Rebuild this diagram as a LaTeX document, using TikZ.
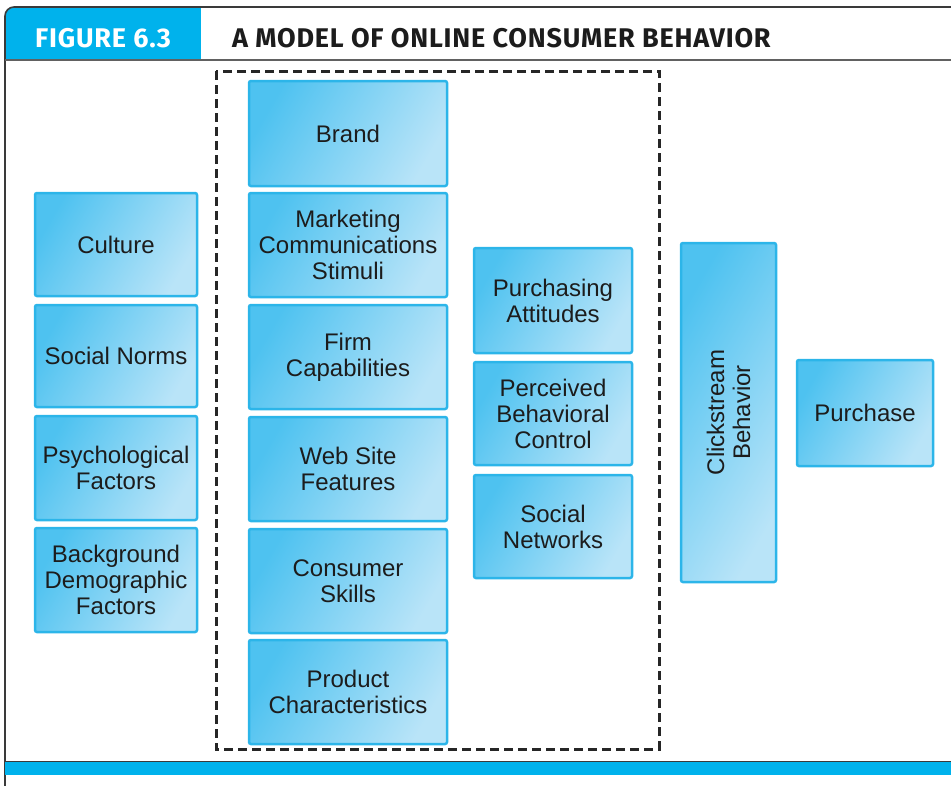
\documentclass[tikz,border=0pt]{standalone}
\usepackage{fontspec}
\setmainfont{Liberation Sans}
\newfontfamily\headfont[LetterSpace=3]{Fira Sans}
\definecolor{headblue}{HTML}{00B2EC}
\definecolor{boxdark}{HTML}{4EC2F0}
\definecolor{boxlight}{HTML}{B9E4F8}
\definecolor{boxedge}{HTML}{2CB5E9}
\definecolor{txt}{HTML}{1C1C1C}
\definecolor{framecol}{HTML}{3A3A3A}
\tikzset{
  box/.style={draw=boxedge, line width=2.5pt, rounded corners=2pt,
    left color=boxdark, right color=boxlight, shading angle=60,
    inner sep=0pt, align=center, text=txt,
    font=\fontsize{24}{26}\selectfont},
  headtext/.style={inner sep=0pt, anchor=base west, font=\headfont\bfseries\fontsize{27}{27}\selectfont}
}
\begin{document}
\begin{tikzpicture}[x=1pt,y=-1pt]
\useasboundingbox (0,0) rectangle (951,785);
% frame and header
\begin{scope}
  \clip[rounded corners=9pt] (5,7) rectangle (1000,900);
  \fill[headblue] (5,7) rectangle (201,60);
\end{scope}
\draw[framecol, line width=1.6pt, rounded corners=9pt] (5,800) -- (5,7) -- (960,7);
\draw[framecol!80, line width=1.4pt] (5,60) -- (960,60);
\fill[headblue] (5,762) rectangle (960,775);
\draw[framecol, line width=1.4pt] (5,761.5) -- (960,761.5);
\node[headtext, text=white] (fig) at (35,47) {FIGURE 6.3};
\node[headtext, text=txt] (title) at (232,47) {A MODEL OF ONLINE CONSUMER BEHAVIOR};
% dashed group
\draw[black!85, line width=3pt, dash pattern=on 9pt off 5pt] (216,71) rectangle (659,749);
% left column
\node[box, minimum width=162pt, minimum height=103pt] (culture) at (116,244.5) {Culture};
\node[box, minimum width=162pt, minimum height=102pt] (norms) at (116,356) {Social Norms};
\node[box, minimum width=162pt, minimum height=104pt] (psych) at (116,468) {Psychological\\Factors};
\node[box, minimum width=162pt, minimum height=104pt] (demo) at (116,580) {Background\\Demographic\\Factors};
% middle column
\node[box, minimum width=198pt, minimum height=105pt] (brand) at (348,133.5) {Brand};
\node[box, minimum width=198pt, minimum height=104pt] (mkt) at (348,245) {Marketing\\Communications\\Stimuli};
\node[box, minimum width=198pt, minimum height=104pt] (firm) at (348,357) {Firm\\Capabilities};
\node[box, minimum width=198pt, minimum height=104pt] (web) at (348,469) {Web Site\\Features};
\node[box, minimum width=198pt, minimum height=104pt] (skills) at (348,581) {Consumer\\Skills};
\node[box, minimum width=198pt, minimum height=104pt] (prod) at (348,692) {Product\\Characteristics};
% right column in group
\node[box, minimum width=158pt, minimum height=105pt] (att) at (553,300.5) {Purchasing\\Attitudes};
\node[box, minimum width=158pt, minimum height=103pt] (pbc) at (553,413.5) {Perceived\\Behavioral\\Control};
\node[box, minimum width=158pt, minimum height=103pt] (soc) at (553,526.5) {Social\\Networks};
% clickstream and purchase
\node[box, rotate=90, minimum width=339pt, minimum height=95pt] (click) at (728.5,412.5) {Clickstream\\Behavior};
\node[box, minimum width=136pt, minimum height=106pt] (purch) at (865,413) {Purchase};
\end{tikzpicture}
\end{document}
